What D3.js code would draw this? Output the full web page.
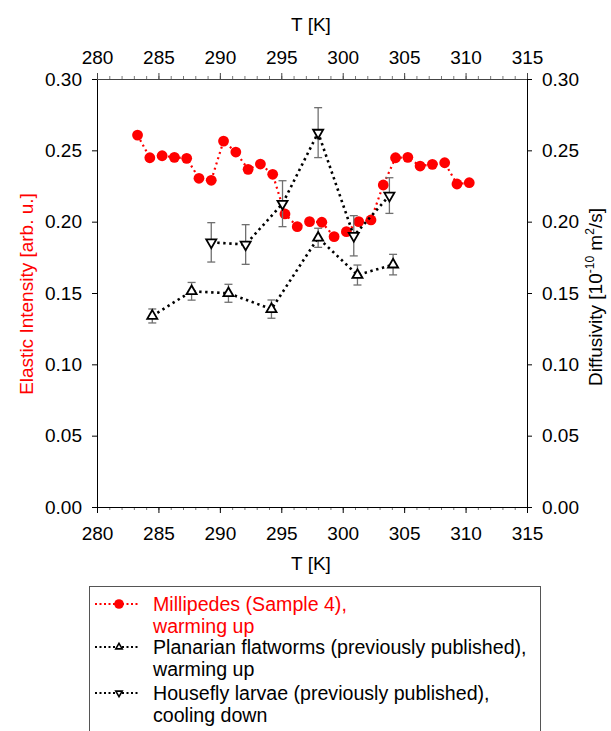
<!DOCTYPE html>
<html>
<head>
<meta charset="utf-8">
<script src="https://cdn.jsdelivr.net/npm/d3@7"></script>
<style>
  body { margin: 0; background: #fff; }
  text { font-family: "Liberation Sans", Arial, sans-serif; }
</style>
</head>
<body>
<div id="chart"></div>
<script>
// Millipedes (Sample 4), elastic intensity, warming up
const milliT = [283.3, 284.3, 285.3, 286.3, 287.3, 288.3, 289.3, 290.3, 291.3, 292.3, 293.3, 294.3, 295.3, 296.3,
                297.3, 298.3, 299.3, 300.3, 301.3, 302.3, 303.3, 304.3, 305.3, 306.3, 307.3, 308.3, 309.3, 310.3];
const milliI = [0.2607, 0.2448, 0.2462, 0.2451, 0.2444, 0.2304, 0.2290, 0.2565, 0.2488, 0.2367, 0.2404, 0.2332, 0.2054, 0.1965,
                0.2000, 0.1996, 0.1895, 0.1930, 0.2000, 0.2012, 0.2257, 0.2448, 0.2451, 0.2390, 0.2402, 0.2413, 0.2264, 0.2273];

// Planarian flatworms, diffusivity, warming up
const planT = [284.5, 287.7, 290.7, 294.2, 298.0, 301.2, 304.1];
const planD = [0.1339, 0.1512, 0.1498, 0.1387, 0.1887, 0.1626, 0.1699];
const planErr = [0.0049, 0.0062, 0.0063, 0.0064, 0.0067, 0.0070, 0.0072];

// Housefly larvae, diffusivity, cooling down
const flyT = [289.3, 292.1, 295.1, 298.0, 300.9, 303.8];
const flyD = [0.1855, 0.1840, 0.2126, 0.2624, 0.1901, 0.2183];
const flyErr = [0.0138, 0.0139, 0.0161, 0.0175, 0.0141, 0.0125];

const tTicks = [280, 285, 290, 295, 300, 305, 310, 315];
const yTicks = [0.00, 0.05, 0.10, 0.15, 0.20, 0.25, 0.30];

const legendItems = [
  {lines: ["Millipedes (Sample 4),", "warming up"], color: "#ff0000", marker: "circle"},
  {lines: ["Planarian flatworms (previously published),", "warming up"], color: "#000", marker: "up"},
  {lines: ["Housefly larvae (previously published),", "cooling down"], color: "#000", marker: "down"}
];

const W = 611, H = 731;
const margin = {top: 79, left: 97, right: 84, bottom: 224};
const width = W - margin.left - margin.right,
      height = H - margin.top - margin.bottom;

const svg = d3.select("#chart").append("svg")
    .attr("width", W)
    .attr("height", H);
svg.append("rect").attr("width", W).attr("height", H).attr("fill", "#fff");

const g = svg.append("g")
    .attr("transform", `translate(${margin.left}, ${margin.top})`);

const x = d3.scaleLinear().domain([280, 315]).range([0, width]);
const yL = d3.scaleLinear().domain([0, 0.30]).range([height, 0]);
const yR = d3.scaleLinear().domain([0, 0.30]).range([height, 0]);

const minorT = d3.range(280, 316, 1);

function styleAxis(sel, color) {
  sel.selectAll("text").attr("font-size", 19).attr("fill", "#000")
     .attr("font-family", '"Liberation Sans", Arial, sans-serif');
  sel.select(".domain").attr("stroke", color);
  sel.selectAll(".tick line").attr("stroke", color);
}

// minor ticks, bottom and top
g.append("g")
    .attr("transform", `translate(0, ${height})`)
    .call(d3.axisBottom(x).tickValues(minorT).tickSize(3).tickFormat(""))
    .call(s => { s.select(".domain").remove(); s.selectAll("line").attr("stroke", "#777"); });
g.append("g")
    .call(d3.axisTop(x).tickValues(minorT).tickSize(3).tickFormat(""))
    .call(s => { s.select(".domain").remove(); s.selectAll("line").attr("stroke", "#777"); });

// bottom axis
g.append("g")
    .attr("transform", `translate(0, ${height})`)
    .call(d3.axisBottom(x).tickValues(tTicks).tickSize(6).tickSizeOuter(0).tickPadding(14).tickFormat(d3.format("d")))
    .call(s => styleAxis(s, "#000"));

// top axis
g.append("g")
    .call(d3.axisTop(x).tickValues(tTicks).tickSize(6).tickSizeOuter(0).tickPadding(9).tickFormat(d3.format("d")))
    .call(s => styleAxis(s, "#444"));

// left axis
g.append("g")
    .call(d3.axisLeft(yL).tickValues(yTicks).tickSize(5).tickSizeOuter(0).tickPadding(10).tickFormat(d3.format(".2f")))
    .call(s => styleAxis(s, "#000"));

// right axis
g.append("g")
    .attr("transform", `translate(${width}, 0)`)
    .call(d3.axisRight(yR).tickValues(yTicks).tickSize(5).tickSizeOuter(0).tickPadding(10).tickFormat(d3.format(".2f")))
    .call(s => styleAxis(s, "#000"));

// axis titles
svg.append("text")
    .attr("x", 311).attr("y", 31)
    .attr("text-anchor", "middle").attr("font-size", 19)
    .text("T [K]");
svg.append("text")
    .attr("x", 311).attr("y", 570)
    .attr("text-anchor", "middle").attr("font-size", 19)
    .text("T [K]");
svg.append("text")
    .attr("transform", "translate(33, 294) rotate(-90)")
    .attr("text-anchor", "middle").attr("font-size", 19)
    .attr("fill", "#ff0000")
    .text("Elastic Intensity [arb. u.]");

const rt = svg.append("text")
    .attr("transform", "translate(602, 297) rotate(-90)")
    .attr("text-anchor", "middle").attr("font-size", 19);
rt.append("tspan").text("Diffusivity [10");
rt.append("tspan").attr("font-size", 12).attr("dy", -8).text("-10");
rt.append("tspan").attr("dy", 8).text(" m");
rt.append("tspan").attr("font-size", 12).attr("dy", -8).text("2");
rt.append("tspan").attr("dy", 8).text("/s]");

// series data
const milli = milliT.map((t, i) => ({t: t, v: milliI[i]}));
const plan = planT.map((t, i) => ({t: t, v: planD[i], e: planErr[i]}));
const fly = flyT.map((t, i) => ({t: t, v: flyD[i], e: flyErr[i]}));

const lineL = d3.line().x(d => x(d.t)).y(d => yL(d.v));
const lineR = d3.line().x(d => x(d.t)).y(d => yR(d.v));

// red line + circles
g.append("path")
    .datum(milli)
    .attr("d", lineL)
    .attr("fill", "none")
    .attr("stroke", "#ff0000")
    .attr("stroke-width", 2.2)
    .attr("stroke-dasharray", "2,3.5");

g.selectAll(".milli")
    .data(milli)
    .enter()
    .append("circle")
      .attr("cx", d => x(d.t))
      .attr("cy", d => yL(d.v))
      .attr("r", 5.4)
      .attr("fill", "#ff0000");

function drawSeries(data, rot) {
  g.append("path")
      .datum(data)
      .attr("d", lineR)
      .attr("fill", "none")
      .attr("stroke", "#000")
      .attr("stroke-width", 2.6)
      .attr("stroke-dasharray", "2.4,3.6");

  const eb = g.append("g").attr("stroke", "#707070").attr("stroke-width", 1.3);
  eb.selectAll("line.v")
    .data(data).enter().append("line")
      .attr("x1", d => x(d.t)).attr("x2", d => x(d.t))
      .attr("y1", d => yR(d.v - d.e)).attr("y2", d => yR(d.v + d.e));
  eb.selectAll("line.top")
    .data(data).enter().append("line")
      .attr("x1", d => x(d.t) - 4).attr("x2", d => x(d.t) + 4)
      .attr("y1", d => yR(d.v + d.e)).attr("y2", d => yR(d.v + d.e));
  eb.selectAll("line.bot")
    .data(data).enter().append("line")
      .attr("x1", d => x(d.t) - 4).attr("x2", d => x(d.t) + 4)
      .attr("y1", d => yR(d.v - d.e)).attr("y2", d => yR(d.v - d.e));

  g.selectAll(null)
    .data(data).enter().append("path")
      .attr("d", d3.symbol(d3.symbolTriangle, 44))
      .attr("transform", d => `translate(${x(d.t)}, ${yR(d.v)}) rotate(${rot})`)
      .attr("fill", "#fff")
      .attr("stroke", "#000")
      .attr("stroke-width", 1.8);
}

drawSeries(plan, 0);
drawSeries(fly, 180);

// legend
const lg = svg.append("g");
lg.append("rect")
    .attr("x", 89.5).attr("y", 586.5)
    .attr("width", 451).attr("height", 200)
    .attr("fill", "#fff")
    .attr("stroke", "#555").attr("stroke-width", 1);

const rowY = [604, 647, 693];
legendItems.forEach((it, i) => {
  const yy = rowY[i];
  lg.append("line")
      .attr("x1", 95).attr("x2", 139)
      .attr("y1", yy).attr("y2", yy)
      .attr("stroke", it.color)
      .attr("stroke-width", 2)
      .attr("stroke-dasharray", "2,2.5");
  if (it.marker === "circle") {
    lg.append("circle").attr("cx", 119).attr("cy", yy).attr("r", 4.8).attr("fill", it.color);
  } else {
    lg.append("path")
        .attr("d", d3.symbol(d3.symbolTriangle, 18))
        .attr("transform", `translate(119, ${yy}) rotate(${it.marker === "up" ? 0 : 180})`)
        .attr("fill", "#fff")
        .attr("stroke", "#000")
        .attr("stroke-width", 1.6);
  }
  it.lines.forEach((ln, j) => {
    lg.append("text")
        .attr("x", 153)
        .attr("y", yy + 6.5 + j * 22.5)
        .attr("font-size", 19.6)
        .attr("fill", it.color)
        .text(ln);
  });
});
</script>
</body>
</html>
